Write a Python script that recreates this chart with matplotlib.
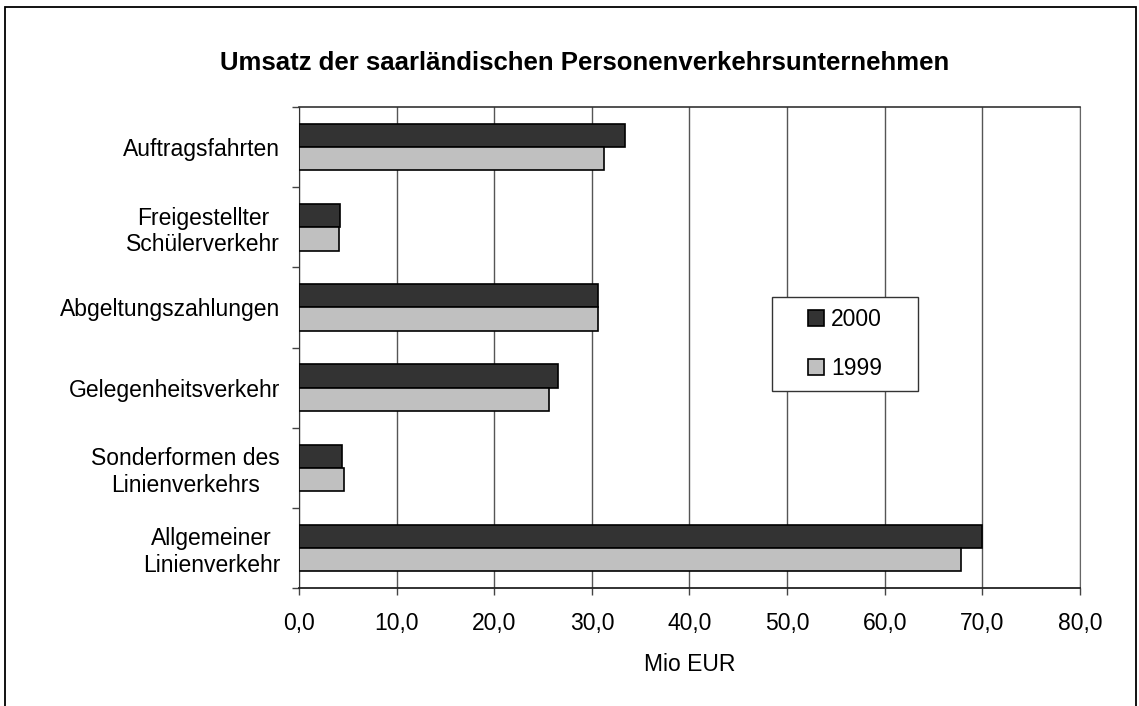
import matplotlib.pyplot as plt
import numpy as np
from matplotlib.patches import Rectangle

plt.rcParams['font.family'] = ['Liberation Sans', 'DejaVu Sans']

# data (top to bottom as in the chart)
categories = ['Auftragsfahrten', 'Freigestellter\nSchülerverkehr', 'Abgeltungszahlungen',
              'Gelegenheitsverkehr', 'Sonderformen des\nLinienverkehrs', 'Allgemeiner\nLinienverkehr']
values_2000 = [33.4, 4.2, 30.6, 26.5, 4.4, 70.0]
values_1999 = [31.2, 4.1, 30.6, 25.6, 4.6, 67.8]
xticks = [0, 10, 20, 30, 40, 50, 60, 70, 80]
xticklabels = ['0,0', '10,0', '20,0', '30,0', '40,0', '50,0', '60,0', '70,0', '80,0']

fs = 16.5

fig = plt.figure(figsize=(11.39, 7.06), dpi=100)
ax = fig.add_axes([0.2625, 0.1671, 0.6857, 0.6813])

# outer frame around the whole chart
fig.patches.append(Rectangle((0.0045, -0.05), 0.9925, 1.04, transform=fig.transFigure,
                             fill=False, edgecolor='black', linewidth=1.3))

n = len(categories)
pos = np.arange(n)[::-1]  # first category at top
h = 0.29
ax.barh(pos + h / 2, values_2000, height=h, color='#333333', edgecolor='black',
        linewidth=1.2, label='2000', zorder=3)
ax.barh(pos - h / 2, values_1999, height=h, color='#c0c0c0', edgecolor='black',
        linewidth=1.2, label='1999', zorder=3)

ax.set_xlim(0, 80)
ax.set_ylim(-0.5, n - 0.5)
ax.set_xticks(xticks)
ax.set_xticklabels(xticklabels, fontsize=fs)
ax.set_yticks(pos)
ax.set_yticklabels(categories, fontsize=fs, multialignment='center')
ax.set_yticks(np.arange(n + 1) - 0.5, minor=True)
ax.tick_params(axis='y', which='major', length=0, pad=13.5)
ax.tick_params(axis='y', which='minor', length=5, width=1, color='#444444')
ax.tick_params(axis='x', length=5, width=1, color='#444444', pad=12)

ax.grid(True, axis='x', color='#555555', linewidth=1, zorder=0)
ax.spines['right'].set_color('#666666')
ax.spines['top'].set_color('#333333')
ax.spines['top'].set_linewidth(1.2)
ax.spines['left'].set_color('#333333')
ax.spines['bottom'].set_color('#222222')
ax.spines['bottom'].set_linewidth(1.3)

ax.set_xlabel('Mio EUR', fontsize=fs, labelpad=13)
fig.text(0.513, 0.911, 'Umsatz der saarländischen Personenverkehrsunternehmen',
         ha='center', va='center', fontsize=18.5, fontweight='bold')

# legend box and entries
ax.add_patch(Rectangle((772 / 1139, 1 - 391 / 706), 146 / 1139, 94 / 706,
                       transform=fig.transFigure, facecolor='white',
                       edgecolor='#333333', linewidth=1, zorder=4, clip_on=False))
leg = ax.legend(loc='center', bbox_to_anchor=(0.7419, 0.5127),
                bbox_transform=fig.transFigure, fontsize=fs, frameon=False,
                handlelength=0.7, handleheight=0.7, handletextpad=0.3,
                labelspacing=1.15, borderpad=0, borderaxespad=0)
leg.set_zorder(5)

plt.savefig('out.png', dpi=100)
